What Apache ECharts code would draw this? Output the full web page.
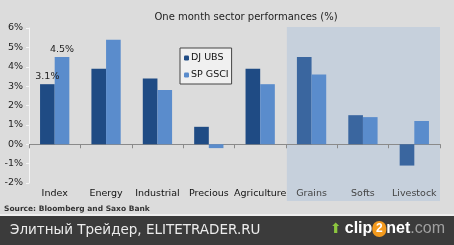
<!DOCTYPE html>
<html><head><meta charset="utf-8">
<script src="https://cdn.jsdelivr.net/npm/echarts@6/dist/echarts.min.js"></script>
<style>html,body{margin:0;padding:0;background:#dcdcdc}#c{width:454px;height:245px}</style>
</head><body><div id="c"></div>
<script>
const categories = ['Index','Energy','Industrial','Precious','Agriculture','Grains','Softs','Livestock'];
const djUbs = [3.1, 3.9, 3.4, 0.9, 3.9, 4.5, 1.5, -1.1];
const spGsci = [4.5, 5.4, 2.8, -0.2, 3.1, 3.6, 1.4, 1.2];
const shadedCategories = ['Grains','Softs','Livestock'];
const yTicks = [-2, -1, 0, 1, 2, 3, 4, 5, 6];

const darkColor = '#1f4b84', darkShaded = '#3a669f', lightColor = '#5a8ccc';
const chart = echarts.init(document.getElementById('c'), null, {renderer:'canvas'});
const font = 'DejaVu Sans';

chart.setOption({
  backgroundColor: '#dcdcdc',
  animation: false,
  textStyle: {fontFamily: font},
  title: {
    text: 'One month sector performances (%)',
    left: 241, textAlign: 'center', top: 7,
    textStyle: {fontSize: 10, fontWeight: 'normal', color: '#222', fontFamily: font}
  },
  legend: {
    orient: 'vertical', left: 180, top: 48,
    backgroundColor: '#f0f0f0', borderColor: '#444', borderWidth: 1,
    padding: [5, 3, 4, 4],
    itemWidth: 5, itemHeight: 5, itemGap: 7,
    textStyle: {fontSize: 9.5, color: '#111', fontFamily: font, padding: [0,0,0,-3]},
    data: ['DJ UBS', 'SP GSCI']
  },
  grid: {left: 29, right: 14, top: 28, bottom: 62, containLabel: false},
  xAxis: [
    {
      type: 'category', data: categories, position: 'bottom',
      axisLine: {show: false}, axisTick: {show: false},
      axisLabel: {
        interval: 0, margin: 6, fontSize: 9.5, color: '#111', fontFamily: font,
        formatter: v => shadedCategories.includes(v) ? '{g|' + v + '}' : v,
        rich: {g: {color: '#444', fontSize: 9.5, fontFamily: font}}
      },
      splitLine: {show: false}
    },
    {
      type: 'category', data: categories, position: 'top',
      axisLine: {show: true, onZero: true, onZeroAxisIndex: 0, lineStyle: {color: '#8a8a8a', width: 1}},
      axisTick: {show: true, inside: true, interval: 0, length: 4, lineStyle: {color: '#8a8a8a'}},
      axisLabel: {show: false},
      splitLine: {show: false}
    }
  ],
  yAxis: {
    type: 'value', min: yTicks[0], max: yTicks[yTicks.length-1], interval: 1,
    axisLine: {show: true, lineStyle: {color: '#f6f6f6', width: 1}},
    axisTick: {show: true, length: 3, lineStyle: {color: '#f6f6f6'}},
    axisLabel: {formatter: '{value}%', fontSize: 9.5, color: '#222', margin: 6, fontFamily: font},
    splitLine: {show: false}
  },
  series: [
    {
      name: 'DJ UBS', type: 'bar', barGap: 0, barCategoryGap: '43%', z: 3, xAxisIndex: 0,
      itemStyle: {color: darkColor},
      data: djUbs.map((v, i) => ({
        value: v,
        itemStyle: {color: shadedCategories.includes(categories[i]) ? darkShaded : darkColor},
        label: i === 0 ? {show: true} : {show: false}
      })),
      label: {position: 'top', formatter: p => p.value + '%', fontSize: 9.5, color: '#222', distance: 3, fontFamily: font}
    },
    {
      name: 'SP GSCI', type: 'bar', z: 3, xAxisIndex: 0,
      itemStyle: {color: lightColor},
      data: spGsci.map((v, i) => ({
        value: v,
        label: i === 0 ? {show: true} : {show: false}
      })),
      label: {position: 'top', formatter: p => p.value + '%', fontSize: 9.5, color: '#222', distance: 3, fontFamily: font}
    }
  ]
});

// Shaded region computed from the axis scales
const first = chart.convertToPixel({xAxisIndex: 0}, shadedCategories[0]);
const second = chart.convertToPixel({xAxisIndex: 0}, categories[1]);
const c0 = chart.convertToPixel({xAxisIndex: 0}, categories[0]);
const band = second - c0;
const last = chart.convertToPixel({xAxisIndex: 0}, shadedCategories[shadedCategories.length-1]);
const yTop = chart.convertToPixel({yAxisIndex: 0}, yTicks[yTicks.length-1]);
const yBot = chart.convertToPixel({yAxisIndex: 0}, yTicks[0]);

chart.setOption({
  graphic: [
    {type: 'rect', z: 0, silent: true,
     shape: {x: first - band/2 + 1, y: yTop - 1, width: (last - first) + band - 1, height: (yBot - yTop) + 19},
     style: {fill: '#c6d0dc'}},
    {type: 'text', left: 4, top: 205, z: 5,
     style: {text: 'Source: Bloomberg and Saxo Bank', fontSize: 7.5, fontWeight: 'bold', fill: '#333', fontFamily: font}},
    {type: 'rect', z: 5, shape: {x: 0, y: 214, width: 454, height: 2}, style: {fill: '#eeeeee'}},
    {type: 'rect', z: 5, shape: {x: 0, y: 216, width: 454, height: 29}, style: {fill: '#3b3b3b'}},
    {type: 'text', left: 10, top: 223, z: 6,
     style: {text: 'Элитный Трейдер, ELITETRADER.RU', fontSize: 13.5, fill: '#ececec', fontFamily: font}},
    {type: 'text', left: 330, top: 221, z: 6,
     style: {
       text: '{a|⬆}{b|clip}{c|2}{b|net}{d|.com}',
       rich: {
         a: {fontSize: 14, fill: '#8cc63f', fontFamily: font, padding: [0, 3, 0, 0]},
         b: {fontSize: 16, fontWeight: 'bold', fill: '#ffffff', fontFamily: 'Liberation Sans'},
         c: {fontSize: 12, fontWeight: 'bold', fill: '#ffffff', backgroundColor: '#f39a1e', borderRadius: 9, width: 14, height: 16, align: 'center', fontFamily: 'Liberation Sans'},
         d: {fontSize: 16, fill: '#a0a0a0', fontFamily: 'Liberation Sans'}
       }
     }}
  ]
});
</script></body></html>
